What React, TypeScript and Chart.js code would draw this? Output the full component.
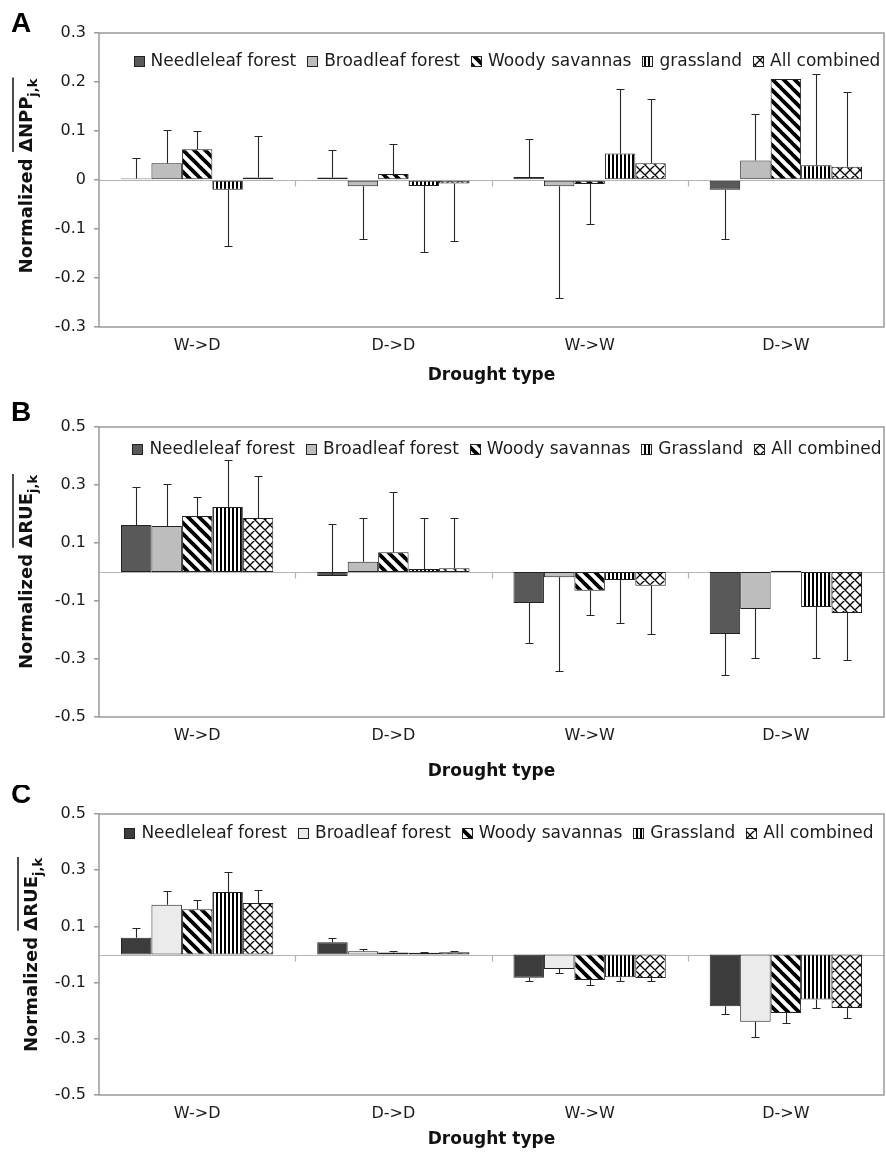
import React, { useEffect, useRef } from 'react';
import { Chart, registerables } from 'chart.js';

Chart.register(...registerables);

// ---------------- DATA ----------------
const CATEGORIES = ['W->D', 'D->D', 'W->W', 'D->W'];

const SERIES_A = ['Needleleaf forest', 'Broadleaf forest', 'Woody savannas', 'grassland', 'All combined'];
const SERIES_BC = ['Needleleaf forest', 'Broadleaf forest', 'Woody savannas', 'Grassland', 'All combined'];

const TICKS_A = [-0.3, -0.2, -0.1, 0, 0.1, 0.2, 0.3];
const TICKS_BC = [-0.5, -0.3, -0.1, 0.1, 0.3, 0.5];

// Panel A: normalized delta NPP (bar value, error-bar end value)
const A_NEEDLE = [0.003, 0.005, 0.006, -0.02];
const A_NEEDLE_ERR = [0.045, 0.061, 0.083, -0.12];
const A_BROAD = [0.034, -0.013, -0.013, 0.04];
const A_BROAD_ERR = [0.103, -0.12, -0.24, 0.135];
const A_WOODY = [0.063, 0.012, -0.008, 0.206];
const A_WOODY_ERR = [0.1, 0.074, -0.089, null];
const A_GRASS = [-0.02, -0.012, 0.054, 0.03];
const A_GRASS_ERR = [-0.134, -0.146, 0.185, 0.216];
const A_ALL = [0.005, -0.007, 0.034, 0.027];
const A_ALL_ERR = [0.09, -0.124, 0.166, 0.18];

// Panel B: normalized delta RUE
const B_NEEDLE = [0.162, -0.014, -0.107, -0.214];
const B_NEEDLE_ERR = [0.293, 0.166, -0.245, -0.356];
const B_BROAD = [0.159, 0.035, -0.018, -0.128];
const B_BROAD_ERR = [0.303, 0.186, -0.341, -0.296];
const B_WOODY = [0.193, 0.068, -0.065, 0.004];
const B_WOODY_ERR = [0.259, 0.277, -0.148, null];
const B_GRASS = [0.224, 0.01, -0.028, -0.121];
const B_GRASS_ERR = [0.386, 0.186, -0.176, -0.296];
const B_ALL = [0.186, 0.013, -0.047, -0.141];
const B_ALL_ERR = [0.331, 0.186, -0.214, -0.303];

// Panel C: normalized delta RUE
const C_NEEDLE = [0.06, 0.044, -0.083, -0.184];
const C_NEEDLE_ERR = [0.094, 0.06, -0.094, -0.213];
const C_BROAD = [0.177, 0.012, -0.052, -0.239];
const C_BROAD_ERR = [0.226, 0.018, -0.065, -0.292];
const C_WOODY = [0.161, 0.007, -0.091, -0.208];
const C_WOODY_ERR = [0.193, 0.011, -0.109, -0.244];
const C_GRASS = [0.222, 0.006, -0.081, -0.16];
const C_GRASS_ERR = [0.295, 0.01, -0.093, -0.19];
const C_ALL = [0.183, 0.008, -0.084, -0.19];
const C_ALL_ERR = [0.228, 0.012, -0.093, -0.227];

// ---------------- STYLE / LAYOUT ----------------
const FONT = '"DejaVu Sans", sans-serif';
const TEXT = '#1c1c1c';
const FRAME = '#9a9a9a';

const PANELS = [
  {
    letter: 'A', top: 0, height: 395, padTop: 33, xHeight: 68, titlePadBottom: 9,
    letterY: 32, yTitleX: 32, yTitleCy: 176, quantity: '\u0394NPP',
    min: -0.3, max: 0.3, ticks: TICKS_A, series: SERIES_A,
    values: [A_NEEDLE, A_BROAD, A_WOODY, A_GRASS, A_ALL],
    errs: [A_NEEDLE_ERR, A_BROAD_ERR, A_WOODY_ERR, A_GRASS_ERR, A_ALL_ERR],
    legendY: 61, legendCx: 507, needle: '#595959', broad: '#bdbdbd',
  },
  {
    letter: 'B', top: 395, height: 390, padTop: 32, xHeight: 68, titlePadBottom: 3,
    letterY: 26, yTitleX: 32, yTitleCy: 177, quantity: '\u0394RUE',
    min: -0.5, max: 0.5, ticks: TICKS_BC, series: SERIES_BC,
    values: [B_NEEDLE, B_BROAD, B_WOODY, B_GRASS, B_ALL],
    errs: [B_NEEDLE_ERR, B_BROAD_ERR, B_WOODY_ERR, B_GRASS_ERR, B_ALL_ERR],
    legendY: 54, legendCx: 507, needle: '#595959', broad: '#bdbdbd',
  },
  {
    letter: 'C', top: 785, height: 368, padTop: 29, xHeight: 58, titlePadBottom: 3,
    letterY: 18, yTitleX: 37, yTitleCy: 170, quantity: '\u0394RUE',
    min: -0.5, max: 0.5, ticks: TICKS_BC, series: SERIES_BC,
    values: [C_NEEDLE, C_BROAD, C_WOODY, C_GRASS, C_ALL],
    errs: [C_NEEDLE_ERR, C_BROAD_ERR, C_WOODY_ERR, C_GRASS_ERR, C_ALL_ERR],
    legendY: 48, legendCx: 499, needle: '#3c3c3c', broad: '#ebebeb',
  },
];

// ---------------- PATTERNS ----------------
function tile(w: number, h: number, draw: (c: CanvasRenderingContext2D) => void) {
  const cv = document.createElement('canvas');
  cv.width = w;
  cv.height = h;
  const c = cv.getContext('2d')!;
  c.fillStyle = '#ffffff';
  c.fillRect(0, 0, w, h);
  draw(c);
  return c.createPattern(cv, 'repeat')!;
}

function diagPattern() {
  const s = 11;
  return tile(s, s, (c) => {
    c.strokeStyle = '#000';
    c.lineWidth = 3.8;
    c.beginPath();
    for (const k of [-s, 0, s]) {
      c.moveTo(k - 1, -1);
      c.lineTo(k + s + 1, s + 1);
    }
    c.stroke();
  });
}

function vertPattern() {
  return tile(4, 4, (c) => {
    c.fillStyle = '#000';
    c.fillRect(0, 0, 2, 4);
  });
}

function crossPattern() {
  const s = 10;
  return tile(s, s, (c) => {
    c.strokeStyle = '#000';
    c.lineWidth = 1.3;
    c.beginPath();
    for (const k of [-s, 0, s]) {
      c.moveTo(k - 1, -1);
      c.lineTo(k + s + 1, s + 1);
      c.moveTo(k - 1, s + 1);
      c.lineTo(k + s + 1, -1);
    }
    c.stroke();
  });
}

function fmt(v: number) {
  const r = Math.round(v * 10) / 10;
  return r === 0 ? '0' : String(r);
}

// ---------------- PANEL ----------------
function Panel({ cfg }: { cfg: any }) {
  const ref = useRef<HTMLCanvasElement>(null);

  useEffect(() => {
    const canvas = ref.current!;
    const fills: any[] = [cfg.needle, cfg.broad, diagPattern(), vertPattern(), crossPattern()];

    const datasets = cfg.series.map((name: string, i: number) => ({
      label: name,
      data: cfg.values[i],
      backgroundColor: fills[i],
      borderColor: '#222',
      borderWidth: 1,
      borderSkipped: false,
      categoryPercentage: 0.776,
      barPercentage: 1,
    }));

    const decor = {
      id: 'decor',
      beforeDatasetsDraw(chart: any) {
        const { ctx, chartArea } = chart;
        const ys = chart.scales.y;
        const xs = chart.scales.x;
        const y0 = Math.round(ys.getPixelForValue(0)) + 0.5;
        ctx.save();
        ctx.strokeStyle = '#b4b4b4';
        ctx.lineWidth = 1.2;
        ctx.beginPath();
        ctx.moveTo(chartArea.left, y0);
        ctx.lineTo(chartArea.right, y0);
        for (let k = 1; k < CATEGORIES.length; k++) {
          const bx = Math.round((xs.getPixelForValue(k - 1) + xs.getPixelForValue(k)) / 2) + 0.5;
          ctx.moveTo(bx, y0);
          ctx.lineTo(bx, y0 + 6);
        }
        ctx.stroke();
        ctx.restore();
      },
      afterDatasetsDraw(chart: any) {
        const { ctx } = chart;
        const ys = chart.scales.y;
        ctx.save();
        ctx.strokeStyle = '#262626';
        ctx.lineWidth = 1.1;
        chart.data.datasets.forEach((ds: any, di: number) => {
          const meta = chart.getDatasetMeta(di);
          meta.data.forEach((bar: any, i: number) => {
            const e = cfg.errs[di][i];
            if (e === null || e === undefined) return;
            const x = Math.round(bar.x) + 0.5;
            const yv = ys.getPixelForValue(cfg.values[di][i]);
            const ye = Math.round(ys.getPixelForValue(e)) + 0.5;
            ctx.beginPath();
            ctx.moveTo(x, yv);
            ctx.lineTo(x, ye);
            ctx.moveTo(x - 4, ye);
            ctx.lineTo(x + 4, ye);
            ctx.stroke();
          });
        });
        ctx.restore();
      },
      afterDraw(chart: any) {
        const { ctx, chartArea } = chart;
        ctx.save();
        // frame
        ctx.strokeStyle = FRAME;
        ctx.lineWidth = 1.5;
        ctx.strokeRect(chartArea.left, chartArea.top, chartArea.right - chartArea.left, chartArea.bottom - chartArea.top);

        // legend
        const font = `17px ${FONT}`;
        ctx.font = font;
        const box = 11, gapBox = 6, gapItem = 11;
        const widths = chart.data.datasets.map((d: any) => ctx.measureText(d.label).width);
        let total = 0;
        widths.forEach((w: number) => (total += box + gapBox + w));
        total += gapItem * (widths.length - 1);
        let x = cfg.legendCx - total / 2;
        const ly = cfg.legendY;
        chart.data.datasets.forEach((d: any, i: number) => {
          ctx.fillStyle = d.backgroundColor;
          ctx.fillRect(Math.round(x), Math.round(ly - box / 2), box, box);
          ctx.strokeStyle = '#222';
          ctx.lineWidth = 1;
          ctx.strokeRect(Math.round(x) + 0.5, Math.round(ly - box / 2) + 0.5, box - 1, box - 1);
          ctx.fillStyle = TEXT;
          ctx.textBaseline = 'middle';
          ctx.textAlign = 'left';
          ctx.fillText(d.label, x + box + gapBox, ly + 1);
          x += box + gapBox + widths[i] + gapItem;
        });

        // panel letter
        ctx.fillStyle = '#000';
        ctx.font = `bold 28px "Liberation Sans", Arial, sans-serif`;
        ctx.textBaseline = 'alphabetic';
        ctx.textAlign = 'left';
        ctx.fillText(cfg.letter, 11, cfg.letterY);

        // y-axis title (rotated, with overline and subscript)
        ctx.translate(cfg.yTitleX, cfg.yTitleCy);
        ctx.rotate(-Math.PI / 2);
        const f1 = `bold 18px ${FONT}`;
        const f2 = `bold 13px ${FONT}`;
        const main = 'Normalized ';
        const over = cfg.quantity;
        const sub = 'j,k';
        ctx.font = f1;
        const w1 = ctx.measureText(main).width;
        const w2 = ctx.measureText(over).width;
        ctx.font = f2;
        const w3 = ctx.measureText(sub).width;
        let px = -(w1 + w2 + w3) / 2;
        ctx.fillStyle = '#111';
        ctx.font = f1;
        ctx.fillText(main, px, 0);
        px += w1;
        const ox = px;
        ctx.fillText(over, px, 0);
        px += w2;
        ctx.font = f2;
        ctx.fillText(sub, px, 5);
        px += w3;
        ctx.strokeStyle = '#111';
        ctx.lineWidth = 1.5;
        ctx.beginPath();
        ctx.moveTo(ox, -19);
        ctx.lineTo(px + 1, -19);
        ctx.stroke();
        ctx.restore();
      },
    };

    const chart = new Chart(canvas, {
      type: 'bar',
      data: { labels: CATEGORIES, datasets },
      options: {
        animation: false,
        responsive: false,
        devicePixelRatio: 1,
        layout: { padding: { top: cfg.padTop, right: 2, bottom: 0, left: 0 } },
        plugins: { legend: { display: false }, tooltip: { enabled: false }, title: { display: false } },
        scales: {
          x: {
            grid: { display: false },
            border: { display: false },
            ticks: { color: TEXT, font: { family: FONT, size: 16 }, padding: 1 },
            title: {
              display: true,
              text: 'Drought type',
              color: '#111',
              font: { family: FONT, size: 17, weight: 'bold' },
              padding: { top: 0, bottom: cfg.titlePadBottom },
            },
            afterFit: (s: any) => {
              s.height = cfg.xHeight;
            },
          },
          y: {
            min: cfg.min,
            max: cfg.max,
            afterBuildTicks: (s: any) => {
              s.ticks = cfg.ticks.map((v: number) => ({ value: v }));
            },
            grid: { display: true, drawOnChartArea: false, drawTicks: true, tickLength: 5, color: FRAME, lineWidth: 1.5 },
            border: { display: false },
            ticks: {
              color: TEXT,
              font: { family: FONT, size: 16 },
              padding: 8,
              callback: (v: any) => fmt(Number(v)),
            },
            afterFit: (s: any) => {
              s.width = 99;
            },
          },
        },
      },
      plugins: [decor],
    } as any);

    return () => chart.destroy();
  }, [cfg]);

  return (
    <canvas
      ref={ref}
      width={886}
      height={cfg.height}
      style={{ position: 'absolute', left: 0, top: cfg.top, width: 886, height: cfg.height, display: 'block' }}
    />
  );
}

export default function App() {
  return (
    <div style={{ position: 'relative', width: 886, height: 1153, background: '#fff', overflow: 'hidden' }}>
      <style>{'body{margin:0;background:#fff;}'}</style>
      {PANELS.map((p) => (
        <Panel key={p.letter} cfg={p} />
      ))}
    </div>
  );
}
